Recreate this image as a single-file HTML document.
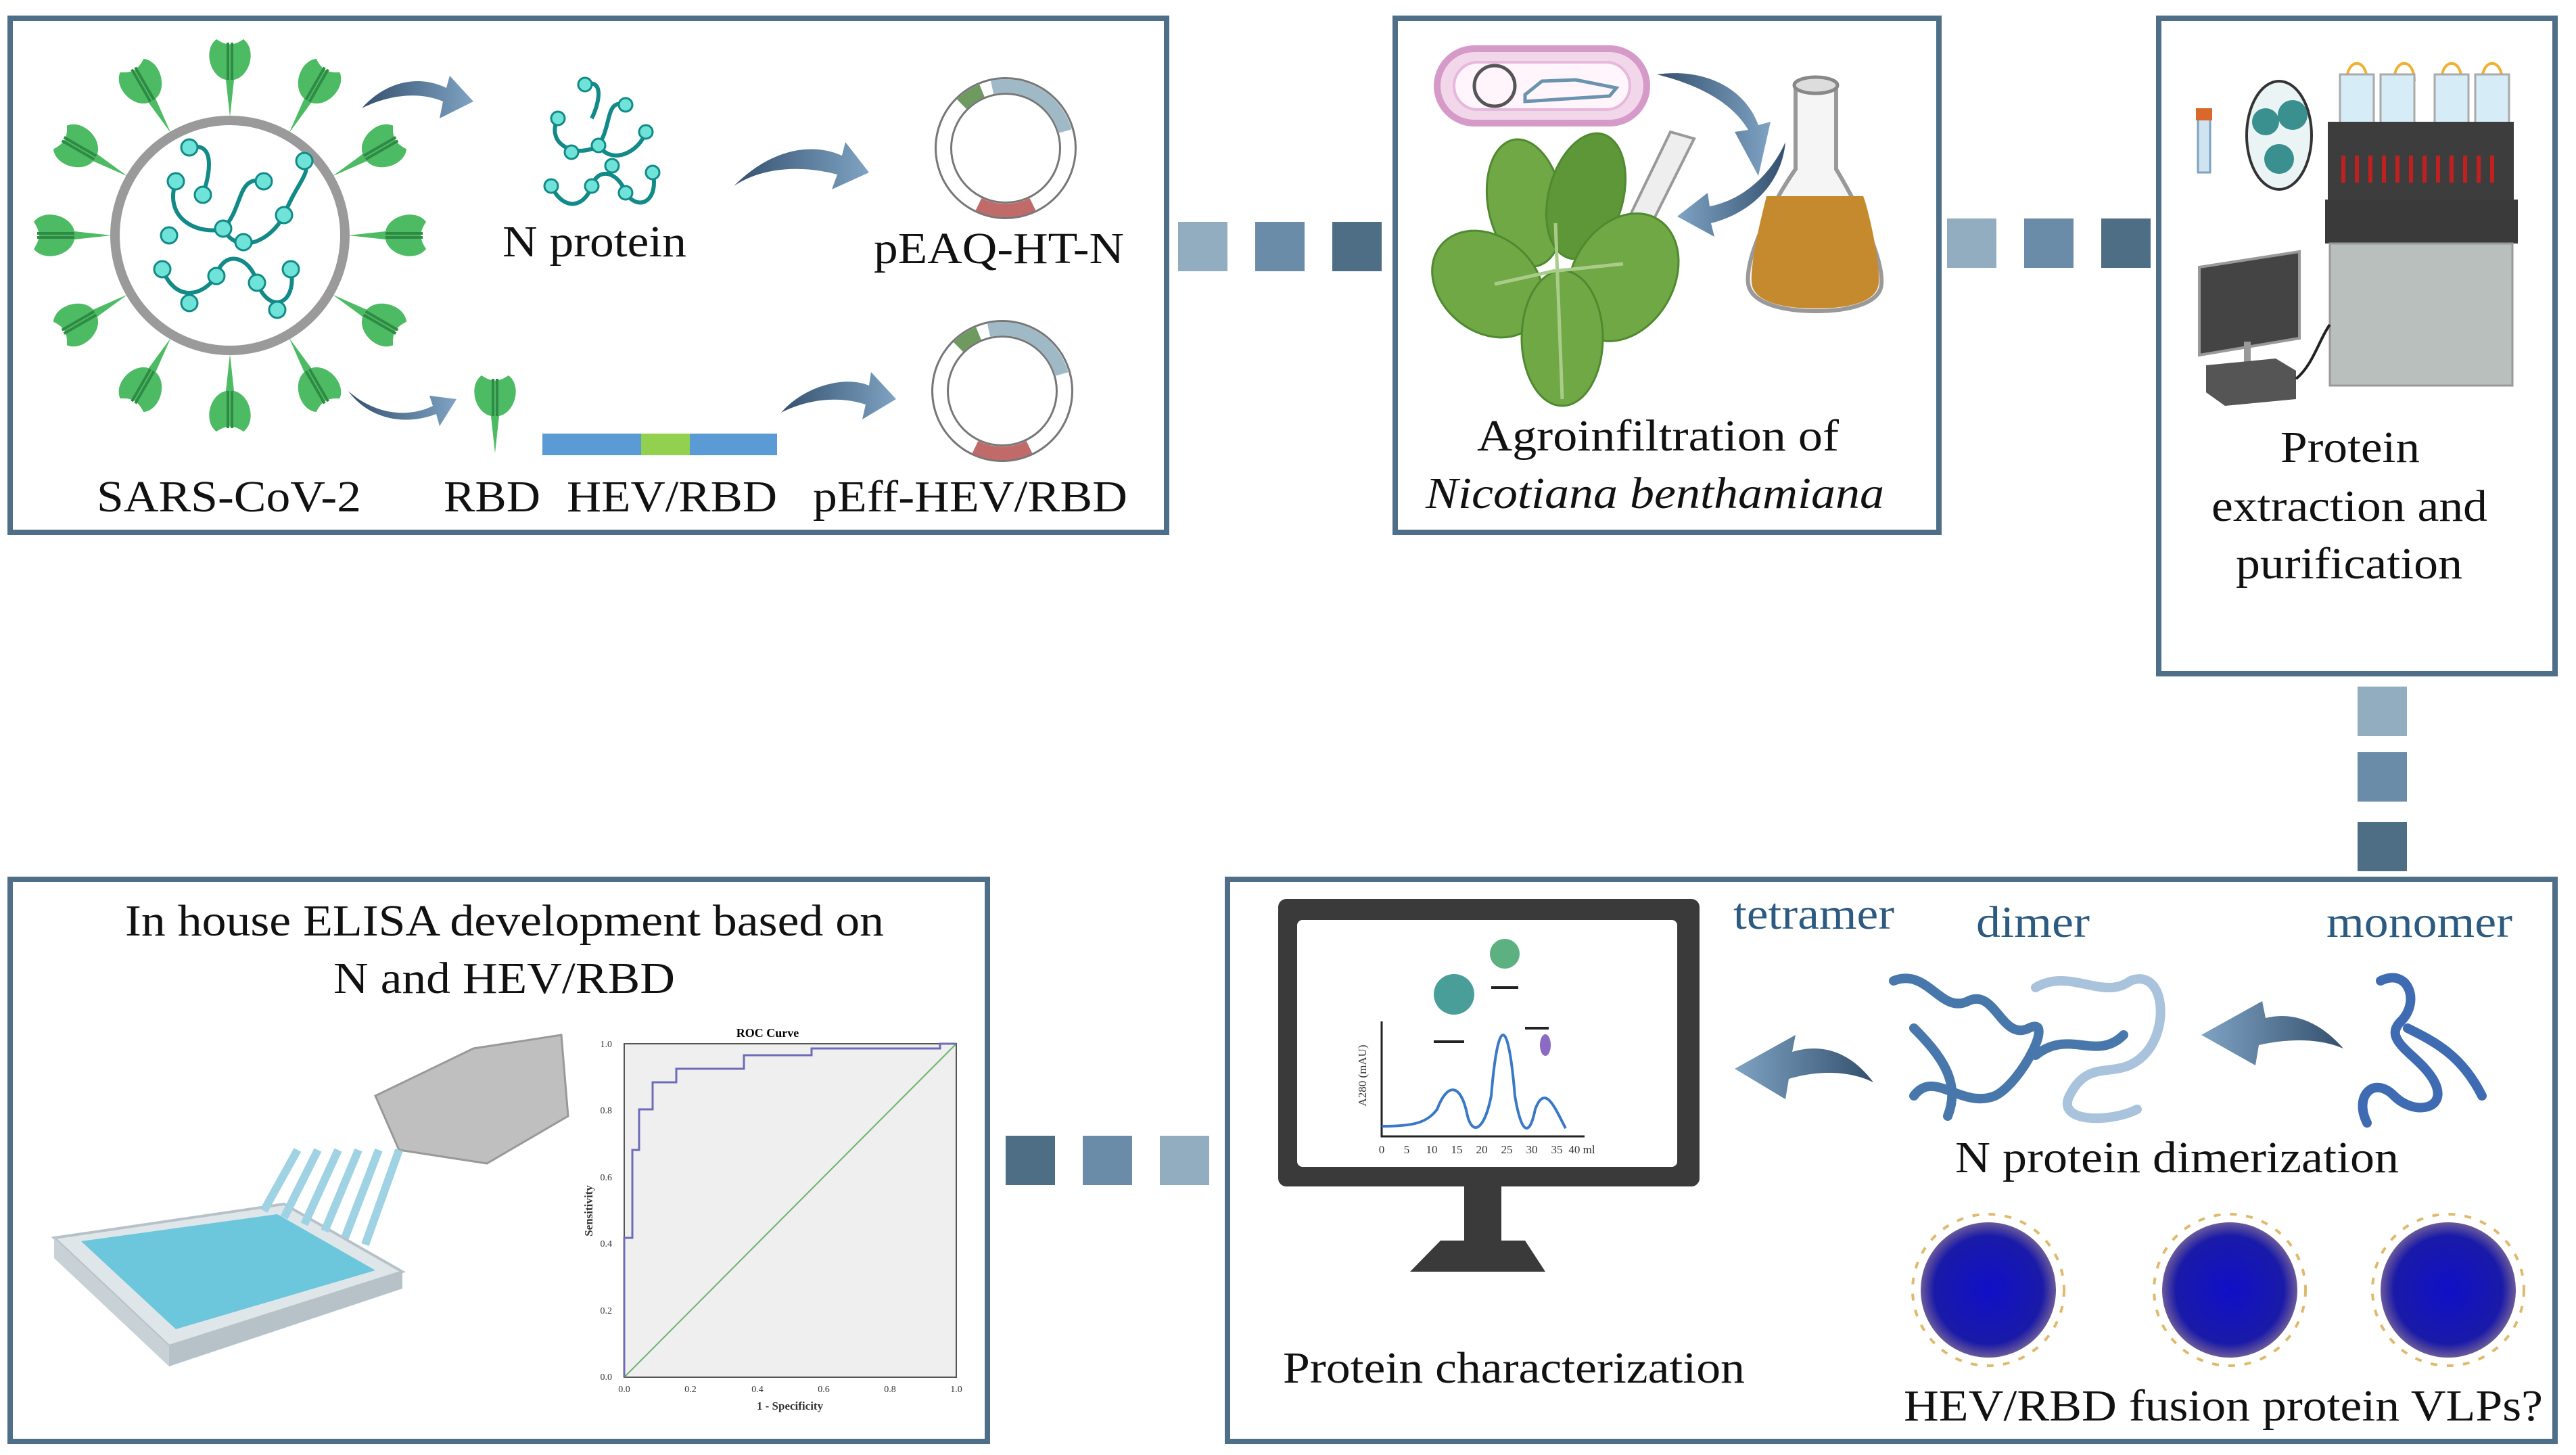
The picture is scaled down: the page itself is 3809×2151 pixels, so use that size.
<!DOCTYPE html>
<html><head><meta charset="utf-8"><style>
html,body{margin:0;padding:0;background:#fff;}
svg{display:block;}
text{font-family:"Liberation Serif",serif;}
</style></head><body>
<svg width="3809" height="2151" viewBox="0 0 3809 2151" xmlns="http://www.w3.org/2000/svg">
<defs>
<linearGradient id="ag" x1="0" x2="1"><stop offset="0" stop-color="#34506e"/><stop offset="1" stop-color="#7fa3c3"/></linearGradient>
<linearGradient id="agr" x1="1" x2="0"><stop offset="0" stop-color="#34506e"/><stop offset="1" stop-color="#7fa3c3"/></linearGradient>
<radialGradient id="vlp"><stop offset="0" stop-color="#1010c8"/><stop offset="0.8" stop-color="#1a1aa8"/><stop offset="1" stop-color="#6a5a9a"/></radialGradient>
<g id="spike"><path d="M0,0 L-6,-55 C-30,-60 -40,-100 -20,-115 C-5,-105 5,-105 20,-115 C40,-100 30,-60 6,-55 Z" fill="#4dbb63"/><path d="M-3,-55 L-3,-110 M3,-55 L3,-110" stroke="#2e8a44" stroke-width="4"/></g>
<g id="plasmid"><circle r="92" fill="none" stroke="#777" stroke-width="26"/><circle r="92" fill="none" stroke="#fff" stroke-width="20"/><path d="M-20,-90 A92,92 0 0 1 88,-25" fill="none" stroke="#9fbac6" stroke-width="20"/><path d="M-65,-65 A92,92 0 0 1 -35,-85" fill="none" stroke="#6e9a60" stroke-width="20"/><path d="M-40,83 A92,92 0 0 0 40,83" fill="none" stroke="#c06a6a" stroke-width="20"/></g>
</defs>

<g fill="none" stroke="#4f6f88" stroke-width="8">
<rect x="15" y="27" width="1710" height="760"/>
<rect x="2063" y="27" width="804" height="760"/>
<rect x="3192" y="27" width="586" height="969"/>
<rect x="15" y="1300" width="1445" height="831"/>
<rect x="1815" y="1300" width="1963" height="831"/>
</g>

<rect x="1742" y="328" width="73" height="73" fill="#93adc0"/>
<rect x="1856" y="328" width="73" height="73" fill="#6a8ca8"/>
<rect x="1970" y="328" width="73" height="73" fill="#4e6e86"/>
<rect x="2879" y="323" width="73" height="73" fill="#93adc0"/>
<rect x="2993" y="323" width="73" height="73" fill="#6a8ca8"/>
<rect x="3107" y="323" width="73" height="73" fill="#4e6e86"/>
<rect x="3486" y="1015" width="73" height="73" fill="#93adc0"/>
<rect x="3486" y="1112" width="73" height="73" fill="#6a8ca8"/>
<rect x="3486" y="1215" width="73" height="73" fill="#4e6e86"/>
<rect x="1487" y="1679" width="73" height="73" fill="#4e6e86"/>
<rect x="1601" y="1679" width="73" height="73" fill="#6a8ca8"/>
<rect x="1715" y="1679" width="73" height="73" fill="#93adc0"/>

<g transform="translate(340,348)">
<use href="#spike" transform="rotate(0) translate(0,-175)"/>
<use href="#spike" transform="rotate(30) translate(0,-175)"/>
<use href="#spike" transform="rotate(60) translate(0,-175)"/>
<use href="#spike" transform="rotate(90) translate(0,-175)"/>
<use href="#spike" transform="rotate(120) translate(0,-175)"/>
<use href="#spike" transform="rotate(150) translate(0,-175)"/>
<use href="#spike" transform="rotate(180) translate(0,-175)"/>
<use href="#spike" transform="rotate(210) translate(0,-175)"/>
<use href="#spike" transform="rotate(240) translate(0,-175)"/>
<use href="#spike" transform="rotate(270) translate(0,-175)"/>
<use href="#spike" transform="rotate(300) translate(0,-175)"/>
<use href="#spike" transform="rotate(330) translate(0,-175)"/>
<circle r="170" fill="none" stroke="#9a9a9a" stroke-width="14"/>
<g fill="none" stroke="#118a88" stroke-width="6">
<path d="M-80,-80 C-100,-20 -40,0 -10,-10 C20,-40 10,-90 50,-80 M-100,50 C-80,100 -40,90 -20,60 C-10,20 30,30 40,70 C60,120 100,100 90,50 M-10,-10 C10,30 60,10 80,-30 C100,-80 120,-90 110,-110 M-60,-130 C-20,-140 -30,-90 -40,-60"/>
</g>
<g fill="#6fe3d8" stroke="#118a88" stroke-width="3">
<circle cx="-80" cy="-80" r="12"/><circle cx="-40" cy="-60" r="12"/><circle cx="-10" cy="-10" r="12"/><circle cx="50" cy="-80" r="12"/><circle cx="-100" cy="50" r="12"/><circle cx="-20" cy="60" r="12"/><circle cx="40" cy="70" r="12"/><circle cx="90" cy="50" r="12"/><circle cx="80" cy="-30" r="12"/><circle cx="110" cy="-110" r="12"/><circle cx="-60" cy="-130" r="12"/><circle cx="-90" cy="0" r="12"/><circle cx="20" cy="10" r="12"/><circle cx="-60" cy="100" r="12"/><circle cx="70" cy="110" r="12"/>
</g>
</g>
<g transform="translate(885,215)">
<g fill="none" stroke="#118a88" stroke-width="6"><path d="M-60,-40 C-80,0 -30,20 0,0 C20,-30 10,-70 40,-60 M-70,60 C-50,100 -20,90 -10,60 C0,30 30,40 40,70 C60,100 90,80 80,40 M0,0 C20,30 60,10 70,-20 M-20,-90 C10,-100 0,-60 -10,-40"/></g>
<g fill="#6fe3d8" stroke="#118a88" stroke-width="3"><circle cx="-60" cy="-40" r="10"/><circle cx="0" cy="0" r="10"/><circle cx="40" cy="-60" r="10"/><circle cx="-70" cy="60" r="10"/><circle cx="-10" cy="60" r="10"/><circle cx="40" cy="70" r="10"/><circle cx="80" cy="40" r="10"/><circle cx="70" cy="-20" r="10"/><circle cx="-20" cy="-90" r="10"/><circle cx="-40" cy="10" r="10"/><circle cx="20" cy="30" r="10"/></g>
</g>
<path d="M535,160 C570,120 620,110 660,130 L665,112 L700,150 L650,175 L655,150 C620,135 575,140 535,160Z" fill="url(#ag)"/>
<path d="M1085,275 C1140,220 1200,210 1245,230 L1250,210 L1285,255 L1230,280 L1238,258 C1190,245 1130,245 1085,275Z" fill="url(#ag)"/>
<path d="M515,578 C550,610 600,620 640,600 L635,585 L675,590 L650,630 L645,612 C600,630 545,620 515,578Z" fill="url(#ag)"/>
<path d="M1155,610 C1190,570 1250,555 1285,570 L1288,550 L1325,590 L1275,620 L1280,598 C1240,585 1195,590 1155,610Z" fill="url(#ag)"/>
<use href="#plasmid" transform="translate(1487,219)"/>
<use href="#plasmid" transform="translate(1482,578)"/>
<g transform="translate(732,670)"><use href="#spike"/></g>
<rect x="802" y="641" width="146" height="32" fill="#5b9bd5"/>
<rect x="948" y="641" width="72" height="32" fill="#92d050"/>
<rect x="1020" y="641" width="129" height="32" fill="#5b9bd5"/>

<rect x="2125" y="72" width="310" height="110" rx="55" fill="#f2d6ea" stroke="#d59ac8" stroke-width="10"/>
<rect x="2150" y="92" width="260" height="70" rx="35" fill="#fff5fa" stroke="#e6b8dc" stroke-width="4"/>
<circle cx="2210" cy="127" r="30" fill="none" stroke="#555" stroke-width="5"/>
<path d="M2255,140 L2280,120 L2330,118 L2390,130 L2380,142 L2255,150Z" fill="none" stroke="#6a93b0" stroke-width="5"/>
<path d="M2450,110 C2520,100 2580,130 2600,185 L2618,180 L2600,260 L2565,195 L2585,192 C2560,150 2510,125 2450,110Z" fill="url(#ag)"/>
<path d="M2640,210 C2635,270 2590,315 2530,330 L2535,350 L2480,320 L2525,285 L2528,305 C2580,295 2620,255 2640,210Z" fill="url(#agr)"/>
<path d="M2655,125 L2655,250 C2620,300 2580,380 2585,420 C2590,450 2640,460 2685,460 C2730,460 2780,450 2782,420 C2785,380 2745,300 2715,250 L2715,125Z" fill="#f5f5f5" stroke="#999" stroke-width="6"/>
<path d="M2612,290 C2610,300 2588,380 2590,418 C2593,448 2640,456 2685,456 C2730,456 2776,448 2778,418 C2780,380 2760,300 2755,290 Z" fill="#c68a2e"/>
<ellipse cx="2685" cy="126" rx="32" ry="12" fill="#ddd" stroke="#888" stroke-width="5"/>
<path d="M2470,195 L2505,205 L2425,365 L2395,350Z" fill="#eee" stroke="#999" stroke-width="4"/>
<g fill="#6fa845" stroke="#4f8a30" stroke-width="3">
<ellipse cx="2255" cy="300" rx="55" ry="95" transform="rotate(-10 2255 300)"/>
<ellipse cx="2345" cy="290" rx="55" ry="95" transform="rotate(15 2345 290)" fill="#5e9738"/>
<ellipse cx="2200" cy="420" rx="70" ry="90" transform="rotate(-50 2200 420)"/>
<ellipse cx="2400" cy="410" rx="75" ry="100" transform="rotate(30 2400 410)"/>
<ellipse cx="2310" cy="500" rx="60" ry="100"/>
</g>
<path d="M2310,590 L2300,330 M2300,400 L2210,420 M2305,400 L2400,390" stroke="#a9cc8a" stroke-width="5" fill="none"/>

<!-- Box3 -->
<rect x="3250" y="170" width="18" height="85" fill="#cfe3f0" stroke="#7fa1bf" stroke-width="3"/>
<rect x="3247" y="160" width="24" height="18" fill="#d9682a"/>
<ellipse cx="3370" cy="200" rx="48" ry="80" fill="#eaf4f5" stroke="#333" stroke-width="4"/>
<circle cx="3350" cy="180" r="20" fill="#3a8f8f"/><circle cx="3390" cy="170" r="22" fill="#3a8f8f"/><circle cx="3370" cy="235" r="22" fill="#3a8f8f"/>
<path d="M3470,120 C3470,85 3500,85 3500,120 M3540,120 C3540,85 3570,85 3570,120 M3610,120 C3610,85 3640,85 3640,120 M3670,120 C3670,85 3700,85 3700,120" fill="none" stroke="#f0b030" stroke-width="4"/>
<rect x="3460" y="110" width="50" height="75" fill="#d6ecf7" stroke="#aaa" stroke-width="3"/>
<rect x="3520" y="110" width="50" height="75" fill="#d6ecf7" stroke="#aaa" stroke-width="3"/>
<rect x="3600" y="110" width="50" height="75" fill="#d6ecf7" stroke="#aaa" stroke-width="3"/>
<rect x="3660" y="110" width="50" height="75" fill="#d6ecf7" stroke="#aaa" stroke-width="3"/>
<rect x="3442" y="180" width="275" height="120" fill="#3d3d3d"/>
<g stroke="#c02020" stroke-width="6"><path d="M3465,230v40 M3485,230v40 M3505,230v40 M3525,230v40 M3545,230v40 M3565,230v40 M3585,230v40 M3605,230v40 M3625,230v40 M3645,230v40 M3665,230v40 M3685,230v40"/></g>
<rect x="3438" y="295" width="285" height="65" fill="#3a3a3a"/>
<rect x="3445" y="360" width="270" height="210" fill="#b9bfbc" stroke="#999" stroke-width="3"/>
<path d="M3252,395 L3400,372 L3400,500 L3252,525 Z" fill="#444" stroke="#999" stroke-width="4"/>
<rect x="3318" y="505" width="10" height="35" fill="#999"/>
<path d="M3262,540 L3365,530 L3395,548 L3395,590 L3290,600 L3262,580Z" fill="#555"/>
<path d="M3395,560 C3420,540 3430,500 3445,480" fill="none" stroke="#222" stroke-width="4"/>

<!-- Box4 -->
<path d="M80,1830 L420,1780 L595,1880 L250,1990 Z" fill="#dfe6ea" stroke="#b7c2c8" stroke-width="4"/>
<path d="M80,1830 L250,1990 L250,2020 L80,1860 Z" fill="#c7d1d6"/>
<path d="M250,1990 L595,1880 L595,1905 L250,2020 Z" fill="#b7c2c8"/>
<path d="M120,1835 L410,1795 L555,1878 L260,1965 Z" fill="#6cc6dc"/>
<path d="M555,1620 L700,1550 L830,1530 L840,1650 L720,1720 L590,1700 Z" fill="#bfbfbf" stroke="#999" stroke-width="3"/>
<g stroke="#9fd3e3" stroke-width="12"><path d="M440,1700 L390,1790 M470,1700 L420,1800 M500,1700 L450,1810 M530,1700 L480,1820 M560,1700 L510,1830 M590,1700 L540,1840"/></g>
<rect x="923" y="1543" width="491" height="493" fill="#efefef" stroke="#555" stroke-width="2"/>
<text x="1135" y="1533" font-family="Liberation Sans,sans-serif" font-size="18" font-weight="bold" text-anchor="middle">ROC Curve</text>
<path d="M923,2036 L1414,1543" stroke="#6cb36c" stroke-width="2"/>
<path d="M923,2036 L923,1830 L935,1830 L935,1700 L945,1700 L945,1640 L965,1640 L965,1600 L1000,1600 L1000,1580 L1100,1580 L1100,1560 L1200,1560 L1200,1550 L1390,1550 L1390,1543 L1414,1543" fill="none" stroke="#6c6cb8" stroke-width="3"/>
<g font-family="Liberation Sans,sans-serif" font-size="14" fill="#333">
<text x="905" y="2040" text-anchor="end">0.0</text><text x="905" y="1942" text-anchor="end">0.2</text><text x="905" y="1843" text-anchor="end">0.4</text><text x="905" y="1745" text-anchor="end">0.6</text><text x="905" y="1646" text-anchor="end">0.8</text><text x="905" y="1548" text-anchor="end">1.0</text>
<text x="923" y="2058" text-anchor="middle">0.0</text><text x="1021" y="2058" text-anchor="middle">0.2</text><text x="1120" y="2058" text-anchor="middle">0.4</text><text x="1218" y="2058" text-anchor="middle">0.6</text><text x="1316" y="2058" text-anchor="middle">0.8</text><text x="1414" y="2058" text-anchor="middle">1.0</text>
<text x="1168" y="2084" text-anchor="middle" font-weight="bold" font-size="17">1 - Specificity</text>
<text transform="translate(876,1790) rotate(-90)" text-anchor="middle" font-weight="bold" font-size="17">Sensitivity</text>
</g>

<!-- Box5 -->
<rect x="1890" y="1329" width="623" height="425" rx="12" fill="#3a3a3a"/>
<rect x="1918" y="1360" width="562" height="365" rx="8" fill="#fff"/>
<rect x="2165" y="1754" width="55" height="80" fill="#3a3a3a"/>
<path d="M2130,1834 L2255,1834 L2285,1880 L2085,1880 Z" fill="#3a3a3a"/>
<path d="M2043,1510 L2043,1680 L2343,1680" fill="none" stroke="#222" stroke-width="3"/>
<path d="M2043,1665 C2090,1665 2110,1660 2125,1640 C2140,1600 2160,1600 2170,1650 C2178,1680 2195,1670 2205,1620 C2215,1500 2230,1500 2240,1620 C2250,1680 2262,1680 2270,1640 C2285,1600 2300,1640 2315,1668" fill="none" stroke="#3a78c8" stroke-width="4"/>
<path d="M2120,1540 h45 M2205,1460 h40 M2255,1520 h35" stroke="#222" stroke-width="4"/>
<circle cx="2150" cy="1470" r="30" fill="#4a9e9a"/><circle cx="2225" cy="1410" r="22" fill="#5db07f"/><ellipse cx="2285" cy="1545" rx="8" ry="16" fill="#8a6ac2"/>
<g font-family="Liberation Sans,sans-serif" font-size="17" fill="#333">
<text x="2043" y="1705" text-anchor="middle">0</text><text x="2080" y="1705" text-anchor="middle">5</text><text x="2117" y="1705" text-anchor="middle">10</text><text x="2154" y="1705" text-anchor="middle">15</text><text x="2191" y="1705" text-anchor="middle">20</text><text x="2228" y="1705" text-anchor="middle">25</text><text x="2265" y="1705" text-anchor="middle">30</text><text x="2302" y="1705" text-anchor="middle">35</text><text x="2339" y="1705" text-anchor="middle">40 ml</text>
<text transform="translate(2020,1590) rotate(-90)" text-anchor="middle">A280 (mAU)</text>
</g>
<path d="M2770,1600 C2740,1560 2700,1540 2650,1555 L2655,1530 L2565,1580 L2640,1625 L2645,1595 C2695,1580 2740,1585 2770,1600Z" fill="url(#agr)"/>
<path d="M3465,1550 C3430,1510 3390,1495 3350,1505 L3345,1480 L3255,1530 L3335,1575 L3340,1545 C3385,1535 3430,1535 3465,1550Z" fill="url(#agr)"/>
<g fill="none" stroke-linecap="round" stroke-width="14">
<path d="M2800,1450 C2850,1430 2870,1500 2910,1480 C2950,1460 2960,1540 3000,1520 C3040,1500 2990,1600 2950,1620 C2900,1640 2860,1580 2830,1620" stroke="#4878ab"/>
<path d="M2830,1520 C2870,1560 2900,1600 2880,1650" stroke="#4878ab"/>
<path d="M3010,1460 C3060,1430 3110,1480 3150,1450 C3200,1430 3210,1520 3170,1560 C3130,1600 3090,1560 3060,1620 C3040,1660 3120,1660 3160,1640" stroke="#a9c3dc"/>
<path d="M3010,1560 C3060,1520 3100,1570 3140,1530" stroke="#4878ab"/>
<path d="M3520,1450 C3560,1430 3580,1480 3550,1510 C3520,1540 3580,1560 3600,1600 C3620,1640 3570,1650 3540,1620 C3510,1590 3480,1620 3500,1660 M3560,1520 C3600,1540 3640,1560 3670,1620" stroke="#3f6bb3"/>
</g>
<g fill="none" stroke="#d7a94a" stroke-width="4" stroke-dasharray="10 14" opacity="0.8">
<circle cx="2940" cy="1907" r="112"/><circle cx="3297" cy="1907" r="112"/><circle cx="3620" cy="1907" r="112"/>
</g>
<circle cx="2940" cy="1907" r="100" fill="url(#vlp)"/>
<circle cx="3297" cy="1907" r="100" fill="url(#vlp)"/>
<circle cx="3620" cy="1907" r="100" fill="url(#vlp)"/>

<g font-size="66" fill="#111">
<text x="743" y="379" textLength="272" lengthAdjust="spacingAndGlyphs">N protein</text>
<text x="1292" y="389" textLength="370" lengthAdjust="spacingAndGlyphs">pEAQ-HT-N</text>
<text x="143" y="756" textLength="391" lengthAdjust="spacingAndGlyphs">SARS-CoV-2</text>
<text x="656" y="756" textLength="143" lengthAdjust="spacingAndGlyphs">RBD</text>
<text x="838" y="756" textLength="311" lengthAdjust="spacingAndGlyphs">HEV/RBD</text>
<text x="1202" y="756" textLength="465" lengthAdjust="spacingAndGlyphs">pEff-HEV/RBD</text>
<text x="2184" y="666" textLength="535" lengthAdjust="spacingAndGlyphs">Agroinfiltration of</text>
<text x="2108" y="751" textLength="678" lengthAdjust="spacingAndGlyphs" font-style="italic">Nicotiana benthamiana</text>
<text x="3372" y="683" textLength="206" lengthAdjust="spacingAndGlyphs">Protein</text>
<text x="3270" y="770" textLength="408" lengthAdjust="spacingAndGlyphs">extraction and</text>
<text x="3306" y="855" textLength="335" lengthAdjust="spacingAndGlyphs">purification</text>
<text x="185" y="1383" textLength="1122" lengthAdjust="spacingAndGlyphs">In house ELISA development based on</text>
<text x="493" y="1468" textLength="505" lengthAdjust="spacingAndGlyphs">N and HEV/RBD</text>
<text x="2563" y="1373" textLength="238" lengthAdjust="spacingAndGlyphs" fill="#2d5a80">tetramer</text>
<text x="2922" y="1385" textLength="168" lengthAdjust="spacingAndGlyphs" fill="#2d5a80">dimer</text>
<text x="3440" y="1385" textLength="275" lengthAdjust="spacingAndGlyphs" fill="#2d5a80">monomer</text>
<text x="2891" y="1733" textLength="656" lengthAdjust="spacingAndGlyphs">N protein dimerization</text>
<text x="1897" y="2044" textLength="683" lengthAdjust="spacingAndGlyphs">Protein characterization</text>
<text x="2815" y="2100" textLength="945" lengthAdjust="spacingAndGlyphs">HEV/RBD fusion protein VLPs?</text>
</g>
</svg>
</body></html>
